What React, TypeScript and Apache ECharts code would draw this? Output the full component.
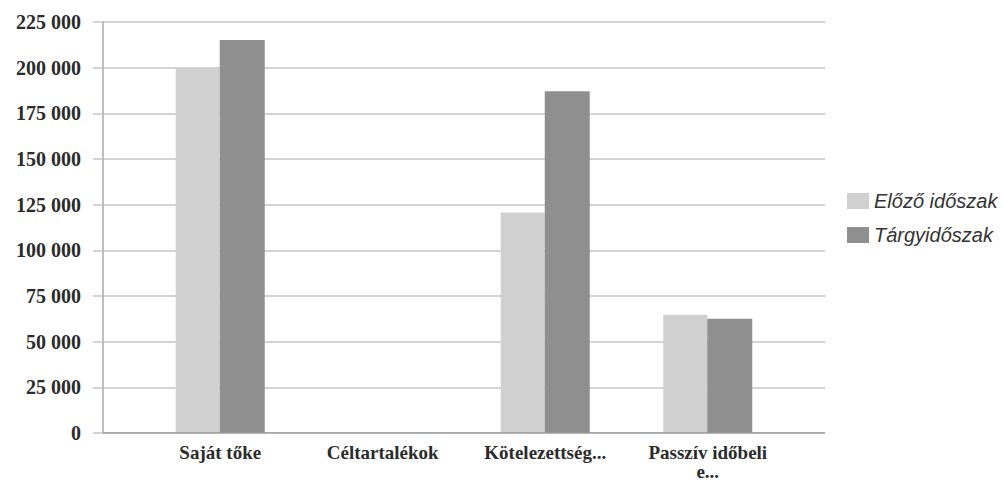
import React, { useEffect, useRef } from "react";
import * as echarts from "echarts";

const categories = ["Saját tőke", "Céltartalékok", "Kötelezettség...", "Passzív időbeli\ne..."];
const seriesNames = ["Előző időszak", "Tárgyidőszak"];
const previousValues = [199800, 0, 120700, 64700];
const currentValues = [215100, 0, 187100, 62500];
const yTicks = [0, 25000, 50000, 75000, 100000, 125000, 150000, 175000, 200000, 225000];

const fmt = (v: number) => {
  const s = String(Math.round(v));
  return s.replace(/\B(?=(\d{3})+(?!\d))/g, " ");
};

export default function App() {
  const ref = useRef<HTMLDivElement>(null);
  useEffect(() => {
    if (!ref.current) return;
    const chart = echarts.init(ref.current, undefined, { renderer: "svg" });
    const yMin = yTicks[0];
    const yMax = yTicks[yTicks.length - 1];
    const interval = yTicks[1] - yTicks[0];
    chart.setOption({
      animation: false,
      backgroundColor: "#ffffff",
      legend: {
        orient: "vertical",
        left: 842,
        top: 186,
        itemWidth: 22,
        itemHeight: 16,
        itemGap: 14,
        icon: "rect",
        textStyle: {
          fontFamily: "Liberation Sans, Arial, sans-serif",
          fontStyle: "italic",
          fontSize: 20,
          color: "#333333",
        },
        data: seriesNames,
      },
      grid: [
        { left: 103, right: 178, top: 22, bottom: 48, outerBoundsMode: "none", containLabel: false },
        { left: 139, right: 214, top: 22, bottom: 48, outerBoundsMode: "none", containLabel: false },
      ],
      xAxis: [
        {
          gridIndex: 0,
          type: "value",
          min: 0,
          max: 1,
          show: true,
          axisLine: { show: false },
          axisTick: { show: false },
          axisLabel: { show: false },
          splitLine: { show: false },
        },
        {
          gridIndex: 1,
          type: "category",
          data: categories,
          axisLine: { show: false },
          axisTick: { show: false },
          axisLabel: {
            margin: 10,
            interval: 0,
            fontFamily: "Liberation Serif, Times New Roman, serif",
            fontWeight: "bold",
            fontSize: 19,
            lineHeight: 19,
            color: "#2b2b2b",
          },
        },
      ],
      yAxis: [
        {
          gridIndex: 0,
          type: "value",
          min: yMin,
          max: yMax,
          interval,
          axisLine: { show: true, lineStyle: { color: "#a8a8a8", width: 1.5 } },
          axisTick: { show: true, length: 10, lineStyle: { color: "#c4c4c4", width: 1.5 } },
          axisLabel: {
            margin: 22,
            formatter: (v: number) => fmt(v),
            fontFamily: "Liberation Serif, Times New Roman, serif",
            fontWeight: "bold",
            fontSize: 20,
            color: "#2b2b2b",
          },
          splitLine: { show: true, lineStyle: { color: "#c4c4c4", width: 1.5 } },
        },
        {
          gridIndex: 1,
          type: "value",
          min: yMin,
          max: yMax,
          interval,
          show: false,
          splitLine: { show: false },
        },
      ],
      series: [
        {
          name: seriesNames[0],
          type: "bar",
          xAxisIndex: 1,
          yAxisIndex: 1,
          data: previousValues,
          barWidth: 44,
          barGap: "0%",
          itemStyle: { color: "#d0d0d0" },
        },
        {
          name: seriesNames[1],
          type: "bar",
          xAxisIndex: 1,
          yAxisIndex: 1,
          data: currentValues,
          barWidth: 45,
          barGap: "0%",
          itemStyle: { color: "#8f8f8f" },
        },
        {
          type: "line",
          xAxisIndex: 0,
          yAxisIndex: 0,
          data: [[0, 0], [1, 0]],
          symbol: "none",
          silent: true,
          lineStyle: { color: "#9a9a9a", width: 1.5 },
          z: 3,
        },
      ],
    });
    return () => chart.dispose();
  }, []);
  return (
    <div
      ref={ref}
      style={{ position: "fixed", left: 0, top: 0, width: 1003, height: 481, background: "#fff" }}
    />
  );
}
